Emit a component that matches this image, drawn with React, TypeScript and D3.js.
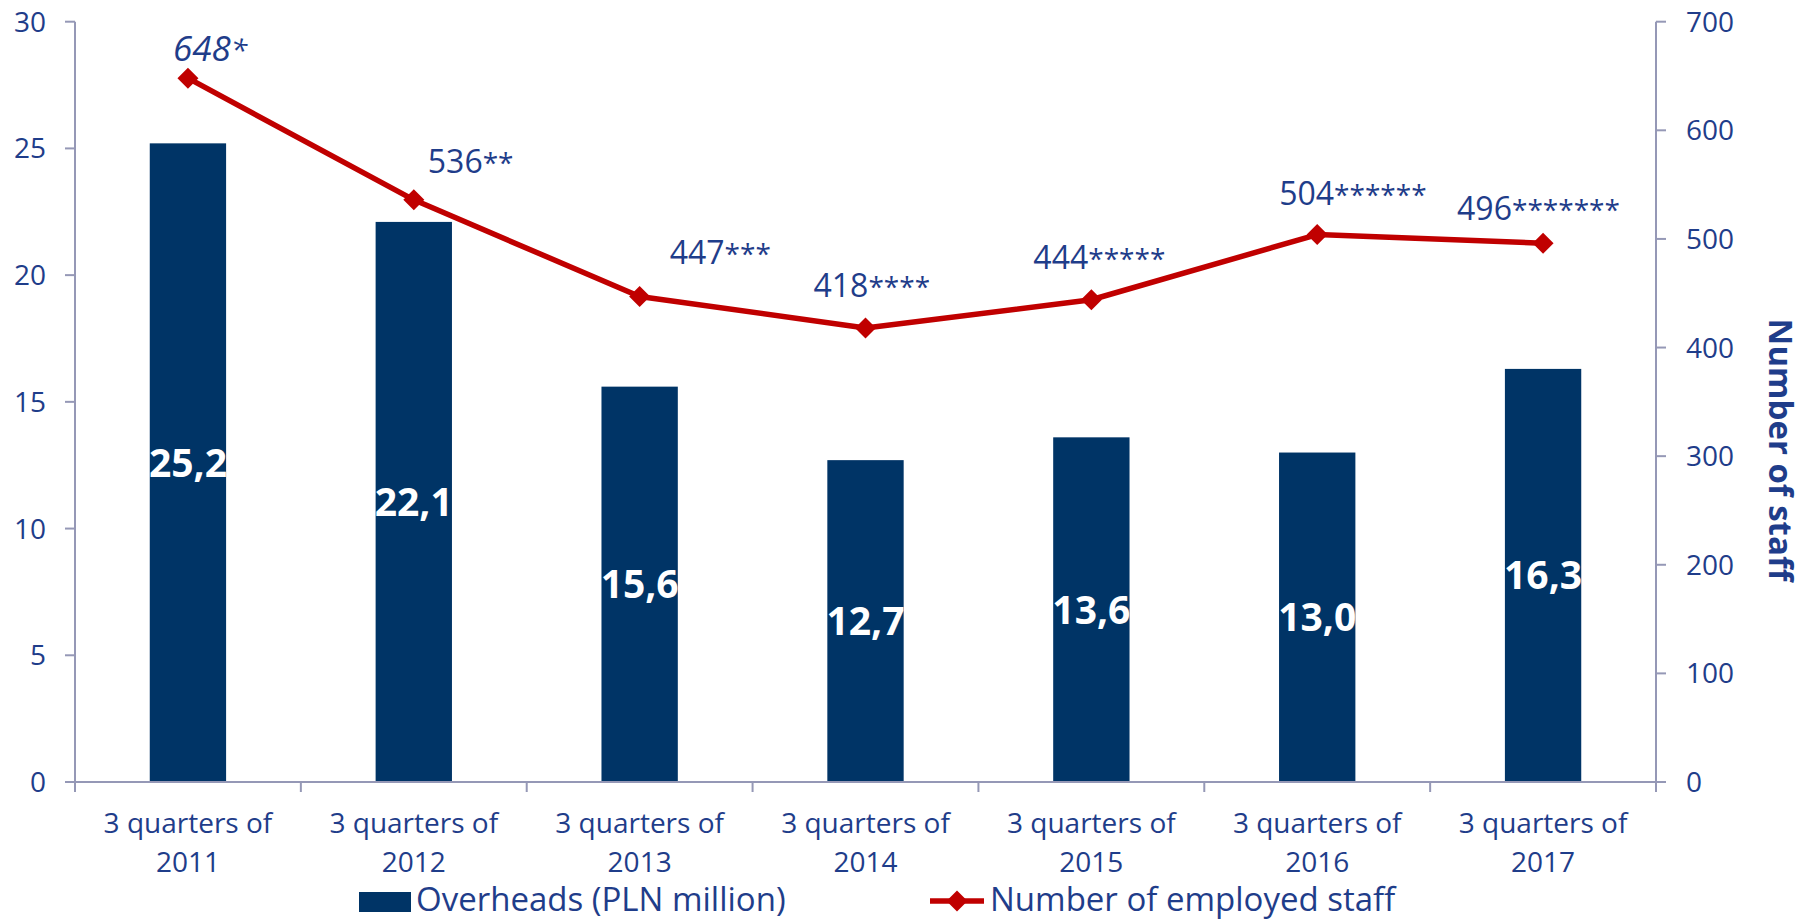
import React from "react";
import * as d3 from "d3";

const categoryLines: string[] = ["3 quarters of", "3 quarters of", "3 quarters of", "3 quarters of", "3 quarters of", "3 quarters of", "3 quarters of"];
const categoryYears: string[] = ["2011", "2012", "2013", "2014", "2015", "2016", "2017"];
const overheads: number[] = [25.2, 22.1, 15.6, 12.7, 13.6, 13.0, 16.3];
const staff: number[] = [648, 536, 447, 418, 444, 504, 496];
const staffNotes: string[] = ["*", "**", "***", "****", "*****", "******", "*******"];
const leftTicks: number[] = [0, 5, 10, 15, 20, 25, 30];
const rightTicks: number[] = [0, 100, 200, 300, 400, 500, 600, 700];
const seriesNames: string[] = ["Overheads (PLN million)", "Number of employed staff"];
const rightAxisTitle = "Number of staff";

// label placement offsets (layout only)
const labelOffsets: [number, number][] = [
  [-15, -17],
  [14, -27],
  [30, -32],
  [-52, -31],
  [-58, -31],
  [-38, -30],
  [-86, -23],
];

const W = 1812;
const H = 920;
const LEFT = 75;
const RIGHT = 1656;
const TOP = 21.7;
const BOTTOM = 782;

const BAR = "#003466";
const TEXT = "#1F3D8A";
const RED = "#C00000";
const AXIS = "#9598B6";
const FONT = "'Open Sans', 'Noto Sans', sans-serif";

const fmtComma = (v: number) => v.toFixed(1).replace(".", ",");

export default function App() {
  const keys = categoryYears.map((_, i) => String(i));
  const x = d3.scaleBand<string>().domain(keys).range([LEFT, RIGHT]).paddingInner(0).paddingOuter(0);
  const yL = d3.scaleLinear().domain([0, 30]).range([BOTTOM, TOP]);
  const yR = d3.scaleLinear().domain([0, 700]).range([BOTTOM, TOP]);
  const bw = x.bandwidth() * 0.338;
  const cx = (i: number) => (x(String(i)) as number) + x.bandwidth() / 2;

  const linePath = d3
    .line<number>()
    .x((_, i) => cx(i))
    .y((d) => yR(d))(staff) as string;

  const diamond = (px: number, py: number, r: number) =>
    `M${px},${py - r}L${px + r},${py}L${px},${py + r}L${px - r},${py}Z`;

  const boundaries = keys.map((k) => x(k) as number).concat([RIGHT]);

  return (
    <svg
      width={W}
      height={H}
      style={{ position: "absolute", left: 0, top: 0, background: "#fff" }}
      fontFamily={FONT}
    >
      <rect x={0} y={0} width={W} height={H} fill="#fff" />
      {/* bars */}
      {overheads.map((v, i) => (
        <rect
          key={"b" + i}
          x={cx(i) - bw / 2}
          y={yL(v)}
          width={bw}
          height={BOTTOM - yL(v)}
          fill={BAR}
        />
      ))}
      {/* bar labels */}
      {overheads.map((v, i) => (
        <text
          key={"bl" + i}
          x={cx(i)}
          y={(yL(v) + BOTTOM) / 2}
          dy="0.36em"
          textAnchor="middle"
          fontSize={39}
          fontWeight={700}
          fill="#fff"
        >
          {fmtComma(v)}
        </text>
      ))}
      {/* left axis */}
      <line x1={LEFT} x2={LEFT} y1={TOP} y2={BOTTOM} stroke={AXIS} strokeWidth={2} />
      {leftTicks.map((t) => (
        <g key={"lt" + t}>
          <line x1={LEFT - 10} x2={LEFT} y1={yL(t)} y2={yL(t)} stroke={AXIS} strokeWidth={2} />
          <text x={LEFT - 29} y={yL(t)} dy="0.36em" textAnchor="end" fontSize={28} fill={TEXT}>
            {t}
          </text>
        </g>
      ))}
      {/* right axis */}
      <line x1={RIGHT} x2={RIGHT} y1={TOP} y2={BOTTOM} stroke={AXIS} strokeWidth={2} />
      {rightTicks.map((t) => (
        <g key={"rt" + t}>
          <line x1={RIGHT} x2={RIGHT + 10} y1={yR(t)} y2={yR(t)} stroke={AXIS} strokeWidth={2} />
          <text x={RIGHT + 30} y={yR(t)} dy="0.36em" textAnchor="start" fontSize={28} fill={TEXT}>
            {t}
          </text>
        </g>
      ))}
      <text
        transform={`translate(1769,450) rotate(90)`}
        textAnchor="middle"
        fontSize={33}
        fontWeight={700}
        fill={TEXT}
      >
        {rightAxisTitle}
      </text>
      {/* x axis */}
      <line x1={LEFT} x2={RIGHT} y1={BOTTOM} y2={BOTTOM} stroke={AXIS} strokeWidth={2} />
      {boundaries.map((b, i) => (
        <line key={"xt" + i} x1={b} x2={b} y1={BOTTOM} y2={BOTTOM + 10} stroke={AXIS} strokeWidth={2} />
      ))}
      {categoryYears.map((yr, i) => (
        <g key={"xl" + i}>
          <text x={cx(i)} y={833} textAnchor="middle" fontSize={28} fill={TEXT}>
            {categoryLines[i]}
          </text>
          <text x={cx(i)} y={872} textAnchor="middle" fontSize={28} fill={TEXT}>
            {yr}
          </text>
        </g>
      ))}
      {/* line */}
      <path d={linePath} fill="none" stroke={RED} strokeWidth={5.5} strokeLinejoin="round" />
      {staff.map((v, i) => (
        <path key={"m" + i} d={diamond(cx(i), yR(v), 10.5)} fill={RED} />
      ))}
      {/* line labels */}
      {staff.map((v, i) => (
        <text
          key={"ll" + i}
          x={cx(i) + labelOffsets[i][0]}
          y={yR(v) + labelOffsets[i][1]}
          fontSize={i === 0 ? 35 : 32}
          fontStyle={i === 0 ? "italic" : "normal"}
          fill={TEXT}
        >
          {v}
          <tspan fontSize={i === 0 ? 30 : 28}>{staffNotes[i]}</tspan>
        </text>
      ))}
      {/* legend */}
      <rect x={359} y={892} width={52} height={20} fill={BAR} />
      <text x={416} y={911} fontSize={33} fill={TEXT}>
        {seriesNames[0]}
      </text>
      <line x1={930} x2={984} y1={901} y2={901} stroke={RED} strokeWidth={5.5} />
      <path d={diamond(957, 901, 10.5)} fill={RED} />
      <text x={990} y={911} fontSize={33} fill={TEXT}>
        {seriesNames[1]}
      </text>
    </svg>
  );
}
